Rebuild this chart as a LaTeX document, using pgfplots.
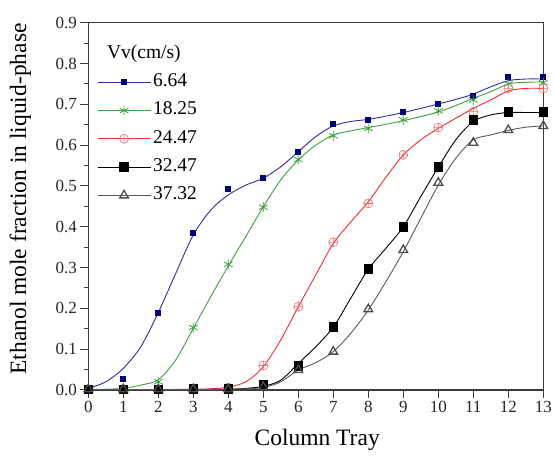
\documentclass[border=0pt]{standalone}
\usepackage{fontspec}
\setmainfont{Liberation Serif}
\usepackage{pgfplots}
\pgfplotsset{compat=1.18}
\definecolor{cblue}{RGB}{45,45,160}
\definecolor{cbluem}{RGB}{0,0,120}
\definecolor{cgreen}{RGB}{60,160,60}
\definecolor{cred}{RGB}{235,45,45}
\definecolor{credm}{RGB}{240,110,110}
\definecolor{cgray}{RGB}{90,90,90}
\definecolor{axgray}{RGB}{60,60,60}
\begin{document}
\begin{tikzpicture}
\begin{axis}[
 at={(0pt,0pt)}, anchor=south west,
 scale only axis, width=455pt, height=367.3pt,
 xmin=0, xmax=13, ymin=0, ymax=0.9,
 xtick={0,1,...,13}, ytick={0,0.1,...,0.9},
 minor ytick={0.05,0.15,...,0.85},
 tick align=outside, major tick length=8pt, minor tick length=4pt,
 xtick pos=left, ytick pos=left,
 axis line style={line width=1.2pt, color=axgray},
 every tick/.style={line width=1pt, axgray},
 yticklabel style={/pgf/number format/.cd, fixed, fixed zerofill, precision=1},
 /pgf/number format/assume math mode=true,
 tick label style={font=\fontsize{17}{17}\selectfont, color=black!85},
 xlabel={Column Tray}, ylabel={Ethanol mole fraction in liquid-phase},
 label style={font=\fontsize{23.5}{24}\selectfont},
 xlabel style={at={(axis description cs:0.503,-0.136)}, anchor=center},
 ylabel style={at={(axis description cs:-0.1495,0.52)}, anchor=center},
 legend cell align=left,
 legend style={at={(axis description cs:0.019,0.947)}, anchor=north west,
   draw=none, fill=none, inner sep=0pt, row sep=5.3pt,
   font=\fontsize{19.5}{20}\selectfont,
   nodes={inner sep=2pt, text height=14pt, text depth=5pt}},
 legend image code/.code={\draw[sharp plot, mark repeat=2,mark phase=2] plot coordinates {(0pt,0pt) (26.5pt,0pt) (53pt,0pt)};},
 curve/.style={line width=0.9pt, smooth, no marks, forget plot},
]
\addlegendimage{empty legend}
\addlegendentry{\hspace{-46pt}Vv(cm/s)}
% fitted curves
\addplot[curve, cblue] coordinates {
(0,0.004) (0.5,0.020) (1,0.053) (1.5,0.106) (2,0.190) (2.5,0.286) (3,0.380) (3.5,0.441) (4,0.478) (4.5,0.502) (5,0.519) (5.5,0.547) (6,0.584) (6.5,0.621) (7,0.647) (7.5,0.658) (8,0.663) (8.5,0.671) (9,0.680) (9.5,0.690) (10,0.701) (10.5,0.712) (11,0.725) (11.5,0.743) (12,0.758) (12.5,0.762) (13,0.762)};
\addplot[curve, cgreen] coordinates {
(0,0.001) (0.5,0.002) (1,0.004) (1.5,0.012) (2,0.025) (2.5,0.074) (3,0.151) (3.5,0.229) (4,0.304) (4.5,0.376) (5,0.449) (5.5,0.515) (6,0.564) (6.5,0.600) (7,0.625) (7.5,0.635) (8,0.643) (8.5,0.651) (9,0.660) (9.5,0.670) (10,0.681) (10.5,0.697) (11,0.715) (11.5,0.731) (12,0.750) (12.5,0.754) (13,0.755)};
\addplot[curve, cred] coordinates {
(0,0.001) (1,0.001) (2,0.001) (3,0.002) (3.5,0.003) (4,0.007) (4.5,0.020) (5,0.057) (5.5,0.123) (6,0.204) (6.5,0.282) (7,0.359) (7.5,0.412) (8,0.461) (8.5,0.521) (9,0.576) (9.5,0.613) (10,0.641) (10.5,0.666) (11,0.690) (11.5,0.711) (12,0.733) (12.5,0.739) (13,0.739)};
\addplot[curve, black] coordinates {
(0,0.001) (1,0.001) (2,0.001) (3,0.001) (4,0.002) (4.5,0.004) (5,0.009) (5.5,0.024) (6,0.065) (6.5,0.106) (7,0.154) (7.5,0.225) (8,0.296) (8.5,0.347) (9,0.400) (9.5,0.474) (10,0.546) (10.5,0.613) (11,0.658) (11.5,0.674) (12,0.680) (12.5,0.680) (13,0.680)};
\addplot[curve, cgray] coordinates {
(0,0.001) (1,0.001) (2,0.001) (3,0.001) (4,0.002) (4.5,0.003) (5,0.006) (5.5,0.020) (6,0.049) (6.5,0.067) (7,0.094) (7.5,0.139) (8,0.196) (8.5,0.265) (9,0.339) (9.5,0.421) (10,0.502) (10.5,0.568) (11,0.613) (11.5,0.625) (12,0.636) (12.5,0.644) (13,0.647)};
% measured points
\addplot[cblue, line width=0.9pt, only marks, mark=square*, mark size=2.5pt, mark options={cbluem, solid}] coordinates {
(0,0.004) (1,0.027) (2,0.188) (3,0.386) (4,0.493) (5,0.519) (6,0.583) (7,0.652) (8,0.662) (9,0.681) (10,0.701) (11,0.721) (12,0.766) (13,0.766)};
\addlegendentry{6.64}
\addplot[cgreen, line width=0.9pt, only marks, mark=asterisk, mark size=5pt, mark options={solid, line width=0.8pt}] coordinates {
(0,0.002) (1,0.003) (2,0.020) (3,0.153) (4,0.308) (5,0.448) (6,0.565) (7,0.623) (8,0.641) (9,0.662) (10,0.684) (11,0.711) (12,0.750) (13,0.753)};
\addlegendentry{18.25}
\addplot[cred, line width=0.9pt, only marks, mark=oplus, mark size=4.5pt, mark options={credm, solid, line width=0.6pt}] coordinates {
(0,0.002) (1,0.002) (2,0.002) (3,0.003) (4,0.006) (5,0.060) (6,0.204) (7,0.362) (8,0.457) (9,0.576) (10,0.643) (11,0.682) (12,0.739) (13,0.739)};
\addlegendentry{24.47}
\addplot[black, line width=0.9pt, only marks, mark=square*, mark size=4.3pt, mark options={solid}] coordinates {
(0,0.001) (1,0.001) (2,0.001) (3,0.002) (4,0.003) (5,0.013) (6,0.059) (7,0.154) (8,0.296) (9,0.399) (10,0.546) (11,0.662) (12,0.681) (13,0.681)};
\addlegendentry{32.47}
\addplot[cgray, line width=0.9pt, only marks, mark=triangle, mark size=5pt, mark options={solid, black!70, line width=1.3pt}] coordinates {
(0,0.002) (1,0.002) (2,0.002) (3,0.002) (4,0.002) (5,0.008) (6,0.049) (7,0.094) (8,0.198) (9,0.343) (10,0.508) (11,0.606) (12,0.637) (13,0.647)};
\addlegendentry{37.32}
\end{axis}
\pgfresetboundingbox
\path (-88.3pt,-67pt) rectangle (465.7pt,390pt);
\end{tikzpicture}
\end{document}
